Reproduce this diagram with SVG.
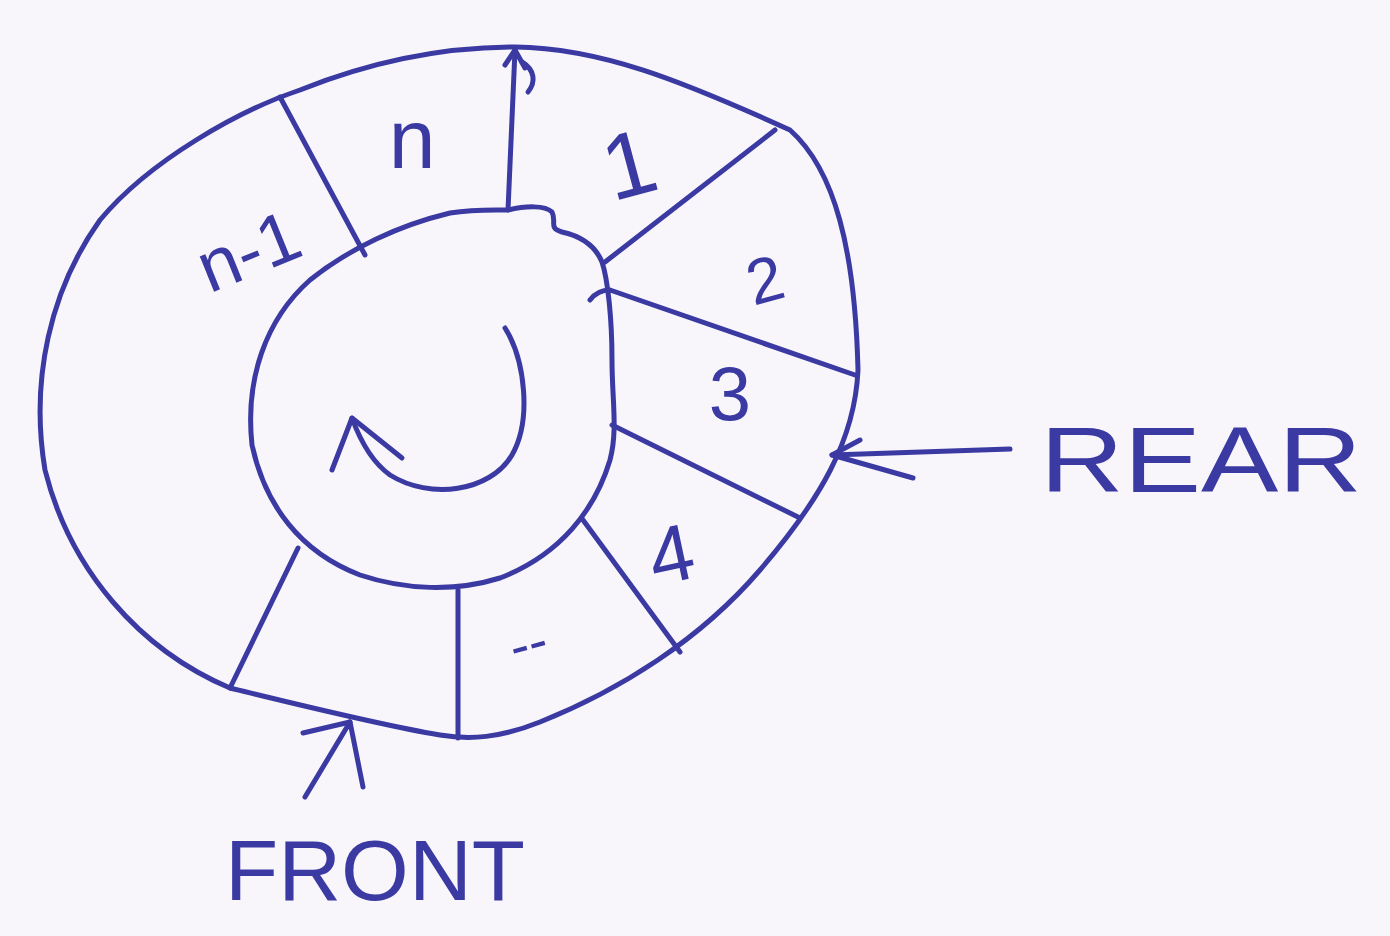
<svg xmlns="http://www.w3.org/2000/svg" width="1390" height="936" viewBox="0 0 1390 936">
<style>
.ln{fill:none;stroke:#3b3aa3;stroke-width:5;stroke-linecap:round;stroke-linejoin:round}
.t{font-family:"Liberation Sans",Arial,sans-serif;fill:#3b3aa3}
</style>
<rect width="1390" height="936" fill="#f8f5fb"/>
<g id="ring">
<path class="ln" d="M515,47 C600,48 680,80 790,130 C835,170 855,250 858,370 C855,440 820,500 760,570 C700,640 620,690 540,722 C500,738 470,740 440,735 C380,725 300,705 230,688 C140,650 70,570 45,470 C30,380 50,290 100,220 C150,160 240,110 300,90 C370,62 440,47 515,47 Z"/>
<path class="ln" d="M508,210 C525,206 545,205 552,212 C557,222 548,228 562,232 C580,236 595,245 602,262 C608,280 612,320 612,360 C612,400 618,430 610,460 C595,510 560,555 500,578 C455,592 405,590 360,575 C300,552 265,505 252,445 C245,380 265,320 310,280 C350,248 400,225 450,213 C475,209 495,210 508,210 Z"/>
</g>
<g id="dividers">
<path class="ln" d="M508,210 L515,50"/>
<path class="ln" d="M505,65 L515,50 L525,68"/>
<path class="ln" d="M522,62 C535,70 536,82 528,92"/>
<path class="ln" d="M280,97 L365,255"/>
<path class="ln" d="M775,130 L605,262"/>
<path class="ln" d="M590,300 C596,292 603,290 610,290 L855,375"/>
<path class="ln" d="M612,425 L800,518"/>
<path class="ln" d="M583,520 L680,652"/>
<path class="ln" d="M458,590 L458,738"/>
<path class="ln" d="M298,548 L230,688"/>
</g>
<g id="cells">
<text class="t" x="412" y="168" font-size="84" text-anchor="middle">n</text>
<text class="t" x="628" y="196" font-size="92" text-anchor="middle" transform="rotate(-15 628 160)">1</text>
<text class="t" x="248" y="276" font-size="72" text-anchor="middle" transform="rotate(-22 248 250)">n-1</text>
<text class="t" x="765" y="302" font-size="64" text-anchor="middle" transform="rotate(-15 765 280)">2</text>
<text class="t" x="730" y="420" font-size="76" text-anchor="middle">3</text>
<text class="t" x="670" y="582" font-size="80" text-anchor="middle" transform="rotate(-12 670 550)">4</text>
<text class="t" x="530" y="662" font-size="56" text-anchor="middle" transform="rotate(-15 530 650)">--</text>
</g>
<g id="connectors">
<path class="ln" d="M505,328 C525,360 532,420 512,455 C490,492 430,500 390,475 C372,462 360,440 352,418"/>
<path class="ln" d="M332,470 L352,418 L402,458"/>
<path class="ln" d="M1010,449 L832,455 L913,478"/>
<path class="ln" d="M832,455 L860,440"/>
<path class="ln" d="M305,797 L350,722 L363,787"/>
<path class="ln" d="M350,722 L303,733"/>
</g>
<g id="labels">
<text class="t" x="1040" y="492" font-size="92" textLength="322" lengthAdjust="spacingAndGlyphs">REAR</text>
<text class="t" x="225" y="900" font-size="86" textLength="300" lengthAdjust="spacingAndGlyphs">FRONT</text>
</g>
</svg>
